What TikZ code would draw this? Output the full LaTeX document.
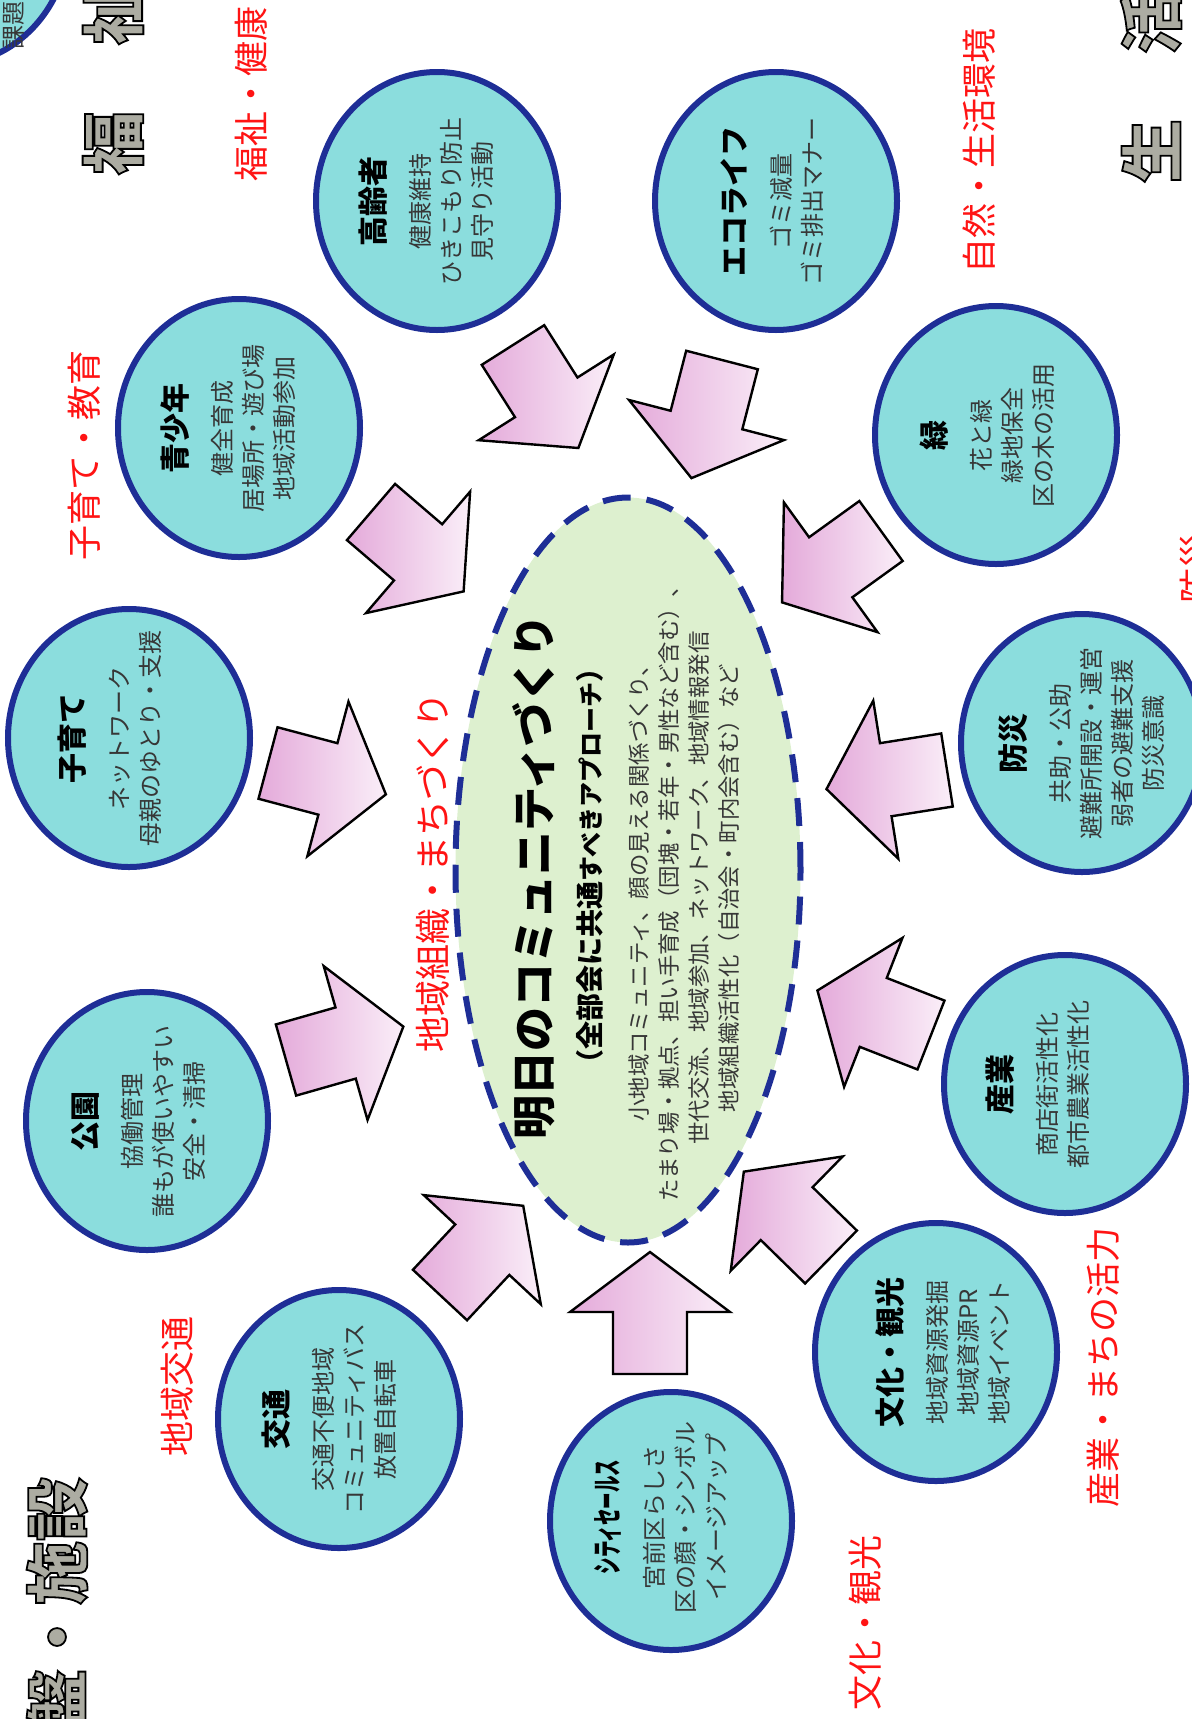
\documentclass[tikz,border=0pt]{standalone}
\usepackage{fontspec}
\usepackage{graphicx}
\setmainfont{Noto Sans CJK JP}
\usetikzlibrary{shapes.geometric}
\definecolor{bubfill}{RGB}{139,221,221}
\definecolor{bubline}{RGB}{30,46,150}
\definecolor{ovalfill}{RGB}{221,240,207}
\definecolor{labred}{RGB}{255,20,20}
\definecolor{bodygray}{RGB}{55,55,55}
\definecolor{pinkD}{RGB}{228,170,218}
\definecolor{pinkL}{RGB}{250,238,248}
\definecolor{bigray}{RGB}{172,172,162}
\newcommand{\bubtitle}[1]{{\fontsize{15}{18}\selectfont\bfseries\color{black}#1}}
\newcommand{\outlinedtext}[1]{\special{pdf:literal 2 Tr 0.9 w 0 0 0 RG}#1\special{pdf:literal 0 Tr}}
\tikzset{
  bubble/.style={ellipse, draw=bubline, line width=3pt, fill=bubfill, minimum width=121pt, minimum height=129pt, inner sep=0pt},
  btext/.style={rotate=90, align=center, text=bodygray, font=\fontsize{12}{15.5}\selectfont, inner sep=0pt},
  redlab/.style={rotate=90, text=labred, font=\fontsize{17.5}{20}\selectfont, inner sep=0pt},
  bigch/.style={rotate=90, text=bigray, font=\fontsize{32}{34}\selectfont\bfseries, inner sep=0pt},
  arrowshape/.style={draw=black, line width=1.2pt, line join=miter, left color=pinkD, right color=pinkL},
  pinkarrow/.pic={\path[arrowshape] (0,-37) -- (62,-37) -- (62,-80) -- (122,0) -- (62,80) -- (62,37) -- (0,37) -- cycle;}
}
\begin{document}
\begin{tikzpicture}[x=0.5pt,y=-0.5pt]
\useasboundingbox (0,0) rectangle (1192,1719);
\clip (0,0) rectangle (1192,1719);

% block arrows toward the centre
\pic[rotate=-40.6] at (371,512) {pinkarrow};
\pic[rotate=-14.9] at (268,763) {pinkarrow};
\pic[rotate=15.9] at (286,1060) {pinkarrow};
\pic[rotate=47.0] at (440,1295) {pinkarrow};
\pic[rotate=90] at (650,1374) {pinkarrow};
\pic[rotate=135.6] at (831,1257) {pinkarrow};
\pic[rotate=158.6] at (931,1035) {pinkarrow};
\pic[rotate=-171.0] at (947,770) {pinkarrow};
\pic[rotate=-144.2] at (881,531) {pinkarrow};
\pic[rotate=-104.5] at (722,360) {pinkarrow};
\pic[rotate=-57.6] at (513,345) {pinkarrow};

% bubbles
\node[bubble] (c-partial) at (-52,-64) {};
\node[bubble] (c-kourei) at (437,201) {};
\node[bubble] (c-eco) at (776,201) {};
\node[bubble] (c-seishonen) at (239,428) {};
\node[bubble] (c-midori) at (996,435) {};
\node[bubble] (c-kosodate) at (129,738) {};
\node[bubble] (c-bousai) at (1082,743) {};
\node[bubble] (c-kouen) at (147,1121) {};
\node[bubble] (c-sangyo) at (1065,1084) {};
\node[bubble] (c-koutsu) at (339,1419) {};
\node[bubble] (c-bunka) at (936,1352) {};
\node[bubble] (c-city) at (671,1521) {};

% bubble texts
\node[btext, anchor=west] (t-partial) at (14,50) {課題・};
\node[btext] (t-kourei) at (426,201) {\bubtitle{高齢者}\\[7pt]健康維持\\ひきこもり防止\\見守り活動};
\node[btext] (t-eco) at (772,201) {\bubtitle{エコライフ}\\[7pt]ゴミ減量\\ゴミ排出マナー};
\node[btext] (t-seishonen) at (228,428) {\bubtitle{青少年}\\[7pt]健全育成\\居場所・遊び場\\地域活動参加};
\node[btext] (t-midori) at (987,435) {\bubtitle{緑}\\[7pt]花と緑\\緑地保全\\区の木の活用};
\node[btext] (t-kosodate) at (110,738) {\bubtitle{子育て}\\[7pt]ネットワーク\\母親のゆとり・支援};
\node[btext] (t-bousai) at (1082,743) {\bubtitle{防災}\\[7pt]共助・公助\\避難所開設・運営\\弱者の避難支援\\防災意識};
\node[btext] (t-kouen) at (138,1121) {\bubtitle{公園}\\[7pt]協働管理\\誰もが使いやすい\\安全・清掃};
\node[btext] (t-sangyo) at (1038,1084) {\bubtitle{産業}\\[7pt]商店街活性化\\都市農業活性化};
\node[btext] (t-koutsu) at (329,1419) {\bubtitle{交通}\\[7pt]交通不便地域\\コミュニティバス\\放置自転車};
\node[btext] (t-bunka) at (943,1352) {\bubtitle{文化・観光}\\[7pt]地域資源発掘\\地域資源PR\\地域イベント};
\node[btext] (t-city) at (661,1517) {\bubtitle{\scalebox{0.55}[1]{シティセールス}}\\[7pt]宮前区らしさ\\区の顔・シンボル\\イメージアップ};

% central oval
\node[ellipse, draw=bubline, line width=3pt, dash pattern=on 14pt off 8pt, fill=ovalfill, minimum width=172.5pt, minimum height=372.5pt, inner sep=0pt] (oval) at (628,870) {};
\node[rotate=90, inner sep=0pt, font=\fontsize{22}{26}\selectfont\bfseries] (maintitle) at (534,877) {明日のコミュニティづくり};
\node[rotate=90, inner sep=0pt, font=\bfseries\fontsize{14}{16}\selectfont] (subtitle) at (590,866) {（全部会に共通{\fontsize{12.5}{16}\selectfont すべきアプローチ}）};
\node[rotate=90, inner sep=0pt, align=center, text=bodygray, font=\fontsize{11.2}{15}\selectfont] (ovalbody) at (684,888) {小地域コミュニティ、顔の見える関係づくり、\\たまり場・拠点、担い手育成（団塊・若年・男性など含む）、\\世代交流、地域参加、ネットワーク、地域情報発信\\地域組織活性化（自治会・町内会含む）など};

% red labels
\node[redlab] (lab-fukushi) at (251,94) {福祉・健康};
\node[redlab] (lab-kosodate) at (84,455) {子育て・教育};
\node[redlab] (lab-shizen) at (979,151) {自然・生活環境};
\node[redlab, font=\fontsize{18}{20}\selectfont] (lab-chiiki) at (433,872) {地域組織・まちづくり};
\node[redlab] (lab-koutsu) at (177,1386) {地域交通};
\node[redlab] (lab-sangyo) at (1103,1367) {産業・まちの活力};
\node[redlab] (lab-bunka) at (865,1623) {文化・観光};
\node[redlab] (lab-bousai) at (1196,568) {防災};

% large outlined grey characters
\node[bigch] (g-fuku) at (113,143) {\outlinedtext{福}};
\node[bigch] (g-shi) at (113,13) {\outlinedtext{祉}};
\node[bigch] (g-sei) at (1151,151) {\outlinedtext{生}};
\node[bigch] (g-katsu) at (1151,22) {\outlinedtext{活}};
\node[bigch] (g-kiban) at (57,1605) {\outlinedtext{盤・施設}};
\end{tikzpicture}
\end{document}
